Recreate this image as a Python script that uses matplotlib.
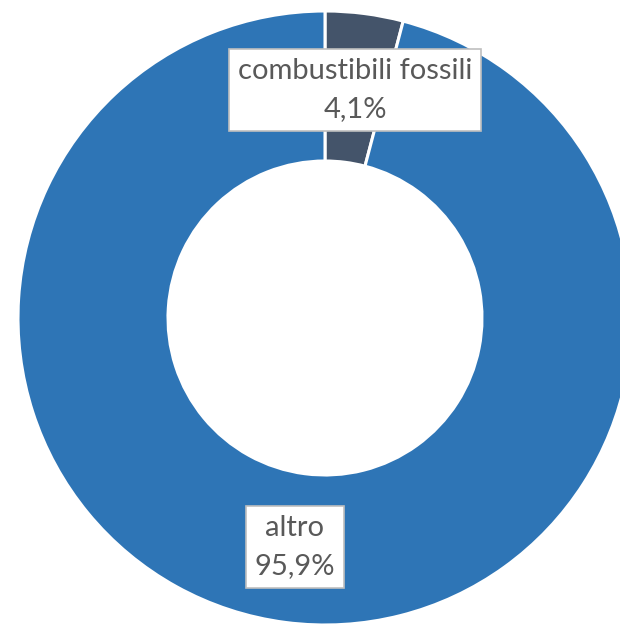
import matplotlib
matplotlib.use("Agg")
import matplotlib.pyplot as plt

# ── Data ───────────────────────────────────────────────────────────────────────
labels = ["combustibili fossili", "altro"]
values = [4.1, 95.9]
pct_labels = ["4,1%", "95,9%"]

BLUE  = "#2E75B6"
DARK  = "#44546A"
TEXT  = "#595959"
EDGE  = "#BFBFBF"

plt.rcParams["font.family"] = ["Lato", "DejaVu Sans"]

fig = plt.figure(figsize=(6.2, 6.26), dpi=100)
ax = fig.add_axes([0, 0, 1, 1])

wedges, _ = ax.pie(
    values,
    colors=[DARK, BLUE],
    startangle=90,
    counterclock=False,
    center=(325, 308),
    radius=307,
    wedgeprops={"width": 150, "edgecolor": "white", "linewidth": 2.2},
    frame=True,
)
ax.set_xlim(0, 620)
ax.set_ylim(0, 626)
ax.set_aspect("equal")
ax.axis("off")

# Data labels with boxes
label_pos = [(355, 536), (295, 79)]
for name, pct, (x, y) in zip(labels, pct_labels, label_pos):
    ax.text(
        x, y, f"{name}\n{pct}",
        ha="center", va="center", fontsize=21, color=TEXT,
        linespacing=1.6,
        bbox=dict(boxstyle="square,pad=0.3", facecolor="white",
                  edgecolor=EDGE, linewidth=1.2),
    )

fig.savefig("out.png", dpi=100)
